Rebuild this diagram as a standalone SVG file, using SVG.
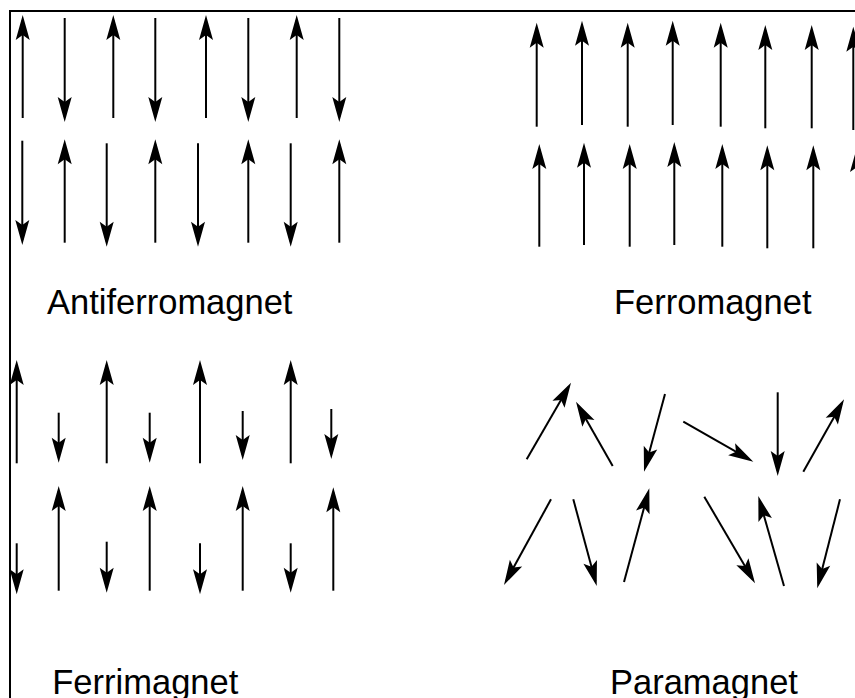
<svg xmlns="http://www.w3.org/2000/svg" width="855" height="698" viewBox="0 0 855 698">
<style>
.a{stroke:#000;stroke-width:2;fill:none;marker-end:url(#ah)}
.t{font-family:"Liberation Sans",Arial,sans-serif;font-size:34.5px;fill:#000}
</style>
<defs>
<marker id="ah" markerUnits="userSpaceOnUse" markerWidth="30" markerHeight="16" viewBox="-30 -8 30 16" refX="-5" refY="0" orient="auto" overflow="visible">
<path d="M0,0 L-25,-7 L-20,0 L-25,7 Z" fill="#000"/>
</marker>
</defs>
<rect width="855" height="698" fill="#fff"/>
<path d="M10,698 V11 H855" stroke="#000" stroke-width="2" fill="none"/>
<g id="antiferromagnet">
<g class="arrows">
<line class="a" x1="22.7" y1="118" x2="22.7" y2="20"/>
<line class="a" x1="64.7" y1="18" x2="64.7" y2="117"/>
<line class="a" x1="113.3" y1="118" x2="113.3" y2="20"/>
<line class="a" x1="155.3" y1="18" x2="155.3" y2="117"/>
<line class="a" x1="206" y1="118" x2="206" y2="20"/>
<line class="a" x1="248.3" y1="18" x2="248.3" y2="117"/>
<line class="a" x1="296.7" y1="118" x2="296.7" y2="20"/>
<line class="a" x1="339.3" y1="18" x2="339.3" y2="117"/>
<line class="a" x1="22.3" y1="140.7" x2="22.3" y2="240"/>
<line class="a" x1="64.7" y1="242.7" x2="64.7" y2="144.3"/>
<line class="a" x1="106.7" y1="143.3" x2="106.7" y2="241.7"/>
<line class="a" x1="155.3" y1="242.7" x2="155.3" y2="144.3"/>
<line class="a" x1="198" y1="143.3" x2="198" y2="241.7"/>
<line class="a" x1="248.3" y1="242.7" x2="248.3" y2="144.3"/>
<line class="a" x1="290.7" y1="143.3" x2="290.7" y2="241.7"/>
<line class="a" x1="339.3" y1="242.7" x2="339.3" y2="144.3"/>
</g>
<text class="t" x="47" y="313.5">Antiferromagnet</text>
</g>
<g id="ferromagnet">
<g class="arrows">
<line class="a" x1="536.7" y1="126.7" x2="536.7" y2="27.7"/>
<line class="a" x1="582" y1="125" x2="582" y2="25.7"/>
<line class="a" x1="627.7" y1="126.7" x2="627.7" y2="27.7"/>
<line class="a" x1="672.7" y1="125" x2="672.7" y2="25.7"/>
<line class="a" x1="720.7" y1="126.7" x2="720.7" y2="27.7"/>
<line class="a" x1="765.3" y1="128.3" x2="765.3" y2="30"/>
<line class="a" x1="811.7" y1="128.3" x2="811.7" y2="30"/>
<line class="a" x1="853.3" y1="130" x2="853.3" y2="31.7"/>
<line class="a" x1="539.3" y1="246.7" x2="539.3" y2="149"/>
<line class="a" x1="584" y1="245" x2="584" y2="147.7"/>
<line class="a" x1="629.7" y1="246.7" x2="629.7" y2="149"/>
<line class="a" x1="674.3" y1="245" x2="674.3" y2="147"/>
<line class="a" x1="722.3" y1="246.7" x2="722.3" y2="149"/>
<line class="a" x1="767.3" y1="248.3" x2="767.3" y2="150.3"/>
<line class="a" x1="813.3" y1="248.3" x2="813.3" y2="150.3"/>
<line class="a" x1="857" y1="250" x2="857" y2="152"/>
</g>
<text class="t" x="614" y="313.5">Ferromagnet</text>
</g>
<g id="ferrimagnet">
<g class="arrows">
<line class="a" x1="16.7" y1="463.3" x2="16.7" y2="365"/>
<line class="a" x1="106.7" y1="463.3" x2="106.7" y2="365"/>
<line class="a" x1="200" y1="463.3" x2="200" y2="365"/>
<line class="a" x1="290.7" y1="463.3" x2="290.7" y2="365"/>
<line class="a" x1="58.7" y1="412.7" x2="58.7" y2="457.7"/>
<line class="a" x1="149.7" y1="412.7" x2="149.7" y2="457.7"/>
<line class="a" x1="242.7" y1="411" x2="242.7" y2="455"/>
<line class="a" x1="331.3" y1="409" x2="331.3" y2="454"/>
<line class="a" x1="16.7" y1="543.3" x2="16.7" y2="589.3"/>
<line class="a" x1="106.7" y1="541.7" x2="106.7" y2="587.7"/>
<line class="a" x1="200" y1="543.3" x2="200" y2="589.3"/>
<line class="a" x1="290.7" y1="543.3" x2="290.7" y2="587.7"/>
<line class="a" x1="58.7" y1="590.7" x2="58.7" y2="491"/>
<line class="a" x1="149.7" y1="590.7" x2="149.7" y2="491"/>
<line class="a" x1="242.7" y1="590.7" x2="242.7" y2="491"/>
<line class="a" x1="333.3" y1="590.7" x2="333.3" y2="492.3"/>
</g>
<text class="t" x="52.3" y="694">Ferrimagnet</text>
</g>
<g id="paramagnet">
<g class="arrows">
<line class="a" x1="526.7" y1="459.3" x2="568.5" y2="387"/>
<line class="a" x1="612.7" y1="466" x2="578.5" y2="406"/>
<line class="a" x1="665" y1="394" x2="645.3" y2="466.9"/>
<line class="a" x1="683.3" y1="421.7" x2="749" y2="459.2"/>
<line class="a" x1="777.7" y1="392.3" x2="777.7" y2="471"/>
<line class="a" x1="803.3" y1="471.7" x2="841.6" y2="403.7"/>
<line class="a" x1="551" y1="499.3" x2="506.4" y2="580.6"/>
<line class="a" x1="573.3" y1="499.3" x2="595.4" y2="581.2"/>
<line class="a" x1="624" y1="582" x2="648" y2="493.1"/>
<line class="a" x1="704.3" y1="496.7" x2="752.5" y2="579"/>
<line class="a" x1="784" y1="586" x2="759.7" y2="500.8"/>
<line class="a" x1="840" y1="499.3" x2="818.5" y2="583.5"/>
</g>
<text class="t" x="610" y="694">Paramagnet</text>
</g>
</svg>
